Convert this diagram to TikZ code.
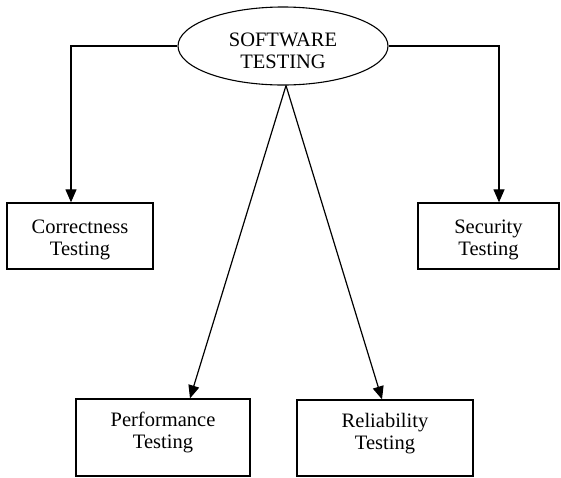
\documentclass[tikz,border=0pt]{standalone}
\usepackage{fontspec}
\setmainfont{Liberation Serif}
\usetikzlibrary{shapes.geometric,arrows.meta}
\begin{document}
\begin{tikzpicture}[x=1pt,y=-1pt,
  every node/.style={font=\fontsize{20.5}{22}\selectfont, align=center, inner sep=0pt},
  boxnode/.style={draw, line width=1.3pt, rectangle},
  conn/.style={line width=1.2pt, -{Triangle[length=13pt,width=11pt]}}]
\useasboundingbox (0,0) rectangle (561,477);
\node[draw, line width=1.1pt, ellipse, minimum width=210pt, minimum height=78pt, text height=46pt] (ell) at (283,46) {SOFTWARE\\TESTING};
\node[boxnode, minimum width=146pt, minimum height=66pt, text height=43pt] (corr) at (80,236) {Correctness\\Testing};
\node[boxnode, minimum width=141pt, minimum height=66pt, text height=43pt] (sec) at (488.5,236) {Security\\Testing};
\node[boxnode, minimum width=174pt, minimum height=77pt, text depth=14pt] (perf) at (163,437.5) {Performance\\Testing};
\node[boxnode, minimum width=176pt, minimum height=76pt, text depth=14pt] (rel) at (385,438) {Reliability\\Testing};
\draw[conn] (ell.west) -| ([xshift=-9pt]corr.north);
\draw[conn] (ell.east) -| ([xshift=10.5pt]sec.north);
\draw[conn] ([xshift=3pt]ell.south) -- ([xshift=27pt]perf.north);
\draw[conn] ([xshift=3pt]ell.south) -- ([xshift=-3pt]rel.north);
\end{tikzpicture}
\end{document}
